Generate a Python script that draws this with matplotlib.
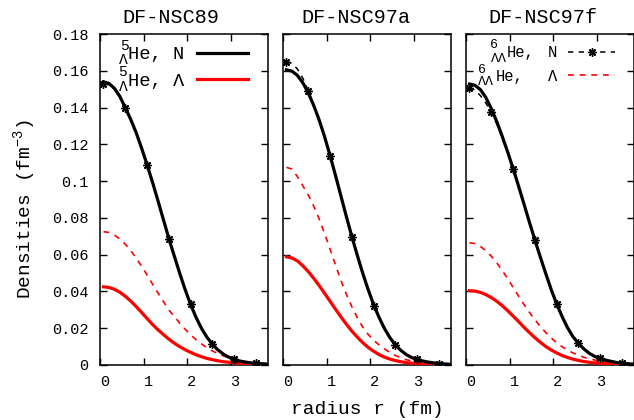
import numpy as np
import matplotlib.pyplot as plt
from matplotlib.lines import Line2D
from matplotlib.transforms import ScaledTranslation

plt.rcParams['font.family'] = ['Liberation Mono', 'DejaVu Sans Mono']
plt.rcParams['mathtext.fontset'] = 'custom'
plt.rcParams['mathtext.rm'] = 'Liberation Mono'
plt.rcParams['mathtext.it'] = 'Liberation Mono'
plt.rcParams['mathtext.bf'] = 'Liberation Mono'

titles = ['DF-NSC89', 'DF-NSC97a', 'DF-NSC97f']
ytick_labels = ['0', '0.02', '0.04', '0.06', '0.08', '0.1', '0.12', '0.14', '0.16', '0.18']

# radial grid (fm), as read against the tick marks
r = [0.08, 0.205, 0.33, 0.455, 0.58, 0.705, 0.83, 0.955,
     1.08, 1.205, 1.33, 1.455, 1.58, 1.705, 1.83, 1.955,
     2.08, 2.205, 2.33, 2.455, 2.58, 2.705, 2.83, 2.955,
     3.08, 3.205, 3.33, 3.455, 3.58, 3.705, 3.83]

# DF-NSC89
n5_89 = [0.154, 0.1531, 0.1505, 0.1461, 0.140, 0.1336, 0.1264, 0.118,
         0.109, 0.0995, 0.0895, 0.0792, 0.069, 0.0594, 0.050, 0.0411,
         0.033, 0.026, 0.020, 0.0152, 0.0114, 0.0083, 0.006, 0.0043,
         0.0031, 0.0022, 0.0016, 0.0012, 0.0009, 0.0007, 0.0005]
l5_89 = [0.0425, 0.0422, 0.0412, 0.0396, 0.0374, 0.0348, 0.0318, 0.0286,
         0.0253, 0.0221, 0.0192, 0.0166, 0.0141, 0.0119, 0.010, 0.0083,
         0.0069, 0.0056, 0.0045, 0.0036, 0.0029, 0.0023, 0.0018, 0.0015,
         0.0012, 0.001, 0.0008, 0.0006, 0.0005, 0.0004, 0.0003]
n6_89 = [0.153, 0.1524, 0.150, 0.1458, 0.1398, 0.1334, 0.1262, 0.1178,
         0.1085, 0.0992, 0.0893, 0.079, 0.0685, 0.059, 0.0498, 0.041,
         0.033, 0.026, 0.020, 0.0153, 0.0115, 0.0084, 0.0061, 0.0044,
         0.0032, 0.0023, 0.0017, 0.0012, 0.0009, 0.0007, 0.0005]
l6_89 = [0.0725, 0.0721, 0.0707, 0.0685, 0.0657, 0.0622, 0.0582, 0.0537,
         0.049, 0.0441, 0.0393, 0.0346, 0.030, 0.0265, 0.0228, 0.0195,
         0.0165, 0.0138, 0.0115, 0.0094, 0.0077, 0.0062, 0.005, 0.004,
         0.0032, 0.0025, 0.0019, 0.0015, 0.0012, 0.0009, 0.0007]

# DF-NSC97a
n5_97a = [0.1605, 0.1598, 0.1575, 0.1535, 0.148, 0.1412, 0.1333, 0.1242,
          0.114, 0.1032, 0.092, 0.0808, 0.070, 0.0598, 0.0501, 0.0411,
          0.033, 0.026, 0.0199, 0.0149, 0.011, 0.008, 0.0057, 0.0041,
          0.003, 0.0022, 0.0016, 0.0012, 0.0008, 0.0006, 0.0004]
l5_97a = [0.0588, 0.0582, 0.0566, 0.054, 0.0508, 0.0472, 0.0432, 0.039,
          0.0347, 0.0304, 0.0262, 0.0222, 0.0185, 0.0152, 0.0122, 0.0096,
          0.0075, 0.0057, 0.0043, 0.0032, 0.0024, 0.0018, 0.0013, 0.001,
          0.0007, 0.0005, 0.0004, 0.0003, 0.0002, 0.0002, 0.0001]
n6_97a = [0.165, 0.164, 0.161, 0.156, 0.149, 0.1415, 0.1335, 0.1243,
          0.1138, 0.103, 0.0918, 0.0806, 0.0698, 0.0596, 0.050, 0.041,
          0.0323, 0.0255, 0.0195, 0.0146, 0.0109, 0.0079, 0.0057, 0.0041,
          0.0031, 0.0023, 0.0016, 0.0012, 0.0008, 0.0006, 0.0004]
l6_97a = [0.1075, 0.1065, 0.1025, 0.0975, 0.0925, 0.0865, 0.0795, 0.0715,
          0.063, 0.0545, 0.046, 0.0385, 0.0318, 0.0258, 0.0207, 0.0167,
          0.0135, 0.011, 0.0088, 0.0068, 0.0052, 0.0039, 0.0029, 0.0022,
          0.0017, 0.0013, 0.001, 0.0008, 0.0006, 0.0004, 0.0003]

# DF-NSC97f
n5_97f = [0.1528, 0.1521, 0.1498, 0.1455, 0.1395, 0.1325, 0.1245, 0.116,
          0.107, 0.0975, 0.0877, 0.0778, 0.0682, 0.0589, 0.0499, 0.0412,
          0.0334, 0.0265, 0.0204, 0.0155, 0.0118, 0.0088, 0.0064, 0.0047,
          0.0036, 0.0027, 0.002, 0.0014, 0.001, 0.0007, 0.0005]
l5_97f = [0.0404, 0.0402, 0.0395, 0.0383, 0.0367, 0.0347, 0.0323, 0.0296,
          0.0267, 0.0237, 0.0206, 0.0177, 0.0149, 0.0124, 0.0101, 0.0082,
          0.0066, 0.0052, 0.0041, 0.0032, 0.0025, 0.0019, 0.0015, 0.0011,
          0.0009, 0.0007, 0.0005, 0.0004, 0.0003, 0.0002, 0.0002]
n6_97f = [0.1508, 0.1495, 0.1465, 0.1425, 0.1374, 0.1312, 0.1238, 0.1155,
          0.1068, 0.0974, 0.0876, 0.0777, 0.068, 0.0587, 0.0497, 0.041,
          0.0332, 0.0264, 0.0204, 0.0155, 0.0118, 0.0088, 0.0064, 0.0047,
          0.0036, 0.0027, 0.002, 0.0014, 0.001, 0.0007, 0.0005]
l6_97f = [0.0665, 0.066, 0.0645, 0.0622, 0.0592, 0.0556, 0.0515, 0.047,
          0.0423, 0.0376, 0.033, 0.0287, 0.0247, 0.021, 0.0177, 0.0148,
          0.0122, 0.01, 0.0081, 0.0066, 0.0053, 0.0042, 0.0034, 0.0027,
          0.0021, 0.0017, 0.0013, 0.001, 0.0008, 0.0006, 0.0005]

panels = [(n5_89, l5_89, n6_89, l6_89),
          (n5_97a, l5_97a, n6_97a, l6_97a),
          (n5_97f, l5_97f, n6_97f, l6_97f)]

W, H = 634, 420
def fx(x):
	return x / W
def fy(y):
	return 1 - y / H

star = (8, 2, 0)
dash = (0, (3.5, 3.5))

fig = plt.figure(figsize=(6.34, 4.2), dpi=100)
lefts = [100, 283, 466]
title_x = [171, 356, 543]
shift = ScaledTranslation(4.5 / 100, 0, fig.dpi_scale_trans)

for i, (n5, l5, n6, l6) in enumerate(panels):
	ax = fig.add_axes([fx(lefts[i]), fy(365), 168 / W, 331 / H])
	ax.plot(r, l6, color='red', lw=1.2, ls=dash, zorder=2)
	ax.plot(r, l5, color='red', lw=2.3, zorder=3)
	ax.plot(r, n5, color='black', lw=2.3, zorder=4)
	ax.plot(r, n6, color='black', lw=1.1, ls=dash, marker=star,
			markevery=4, ms=6, mew=1.0, zorder=5)
	ax.set_xlim(0, 3.86)
	ax.set_ylim(0, 0.18)
	ax.set_xticks([0, 1, 2, 3])
	ax.set_yticks(np.linspace(0, 0.18, 10))
	ax.tick_params(direction='in', length=5, width=1, top=True, right=True,
				   labelsize=11)
	ax.tick_params(axis='x', pad=7)
	ax.tick_params(axis='y', pad=8.5)
	if i == 0:
		ax.set_yticklabels(ytick_labels)
	else:
		ax.set_yticklabels([])
	for lbl in ax.get_xticklabels():
		lbl.set_transform(lbl.get_transform() + shift)
	for s in ax.spines.values():
		s.set_linewidth(1.1)
	fig.text(fx(title_x[i]), fy(22.7), titles[i], ha='center', va='baseline',
			 fontsize=14.5)

def put(x, y, s, size, ha='left'):
	fig.text(fx(x), fy(y), s, ha=ha, va='baseline', fontsize=size)

# key, panel 1
fig.add_artist(Line2D([fx(197), fx(248)], [fy(53), fy(53)], color='black',
					  lw=2.3, transform=fig.transFigure))
fig.add_artist(Line2D([fx(197), fx(248)], [fy(79), fy(79)], color='red',
					  lw=2.3, transform=fig.transFigure))
put(120, 49.5, '5', 10.5)
put(119, 63.5, 'Λ', 10.5)
put(128, 59.5, 'He, N', 13.5)
put(118, 76.5, '5', 10.5)
put(119, 91, 'Λ', 10.5)
put(128, 86, 'He, Λ', 13.5)

# key, panel 3
fig.add_artist(Line2D([fx(568), fx(615)], [fy(52), fy(52)], color='black',
					  lw=1.1, ls=dash, transform=fig.transFigure))
fig.add_artist(Line2D([fx(591.5)], [fy(52)], color='black', marker=star,
					  ms=6, mew=1.0, transform=fig.transFigure))
fig.add_artist(Line2D([fx(568), fx(615)], [fy(75), fy(75)], color='red',
					  lw=1.2, ls=dash, transform=fig.transFigure))
put(490, 48, '6', 9.5)
put(490.5, 62.3, 'ΛΛ', 9.5)
put(507, 56.7, 'He,', 11.2)
put(557, 56.7, 'N', 11.2, ha='right')
put(478, 72.7, '6', 9.5)
put(478, 85, 'ΛΛ', 9.5)
put(496, 80.7, 'He,', 11.2)
put(557, 80.7, 'Λ', 11.2, ha='right')

fig.text(fx(25), 0.502, r'Densities (fm$^{-3}$)', rotation=90, ha='center',
		 va='center', fontsize=14)
fig.text(fx(367), fy(409), 'radius r (fm)', ha='center', va='center',
		 fontsize=14)

plt.savefig('out.png', dpi=100)
